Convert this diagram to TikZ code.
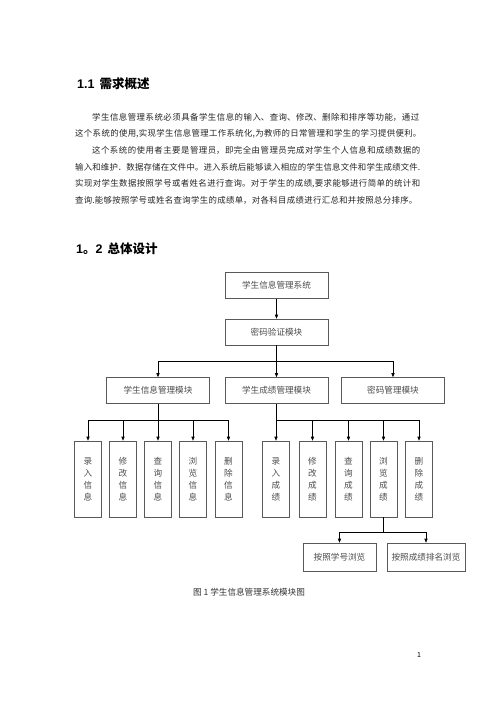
\documentclass[tikz,border=0pt]{standalone}
\usepackage{fontspec}
\setmainfont{Noto Sans CJK SC}
\newfontfamily\latinhd{Liberation Sans}
\usetikzlibrary{arrows.meta}

\XeTeXlinebreaklocale "zh"
\XeTeXlinebreakskip=0pt plus 3pt
\newcommand{\jline}[2]{\parbox{#1}{\tolerance=10000\parindent=0pt\parfillskip=0pt #2}}
\newcommand{\bodyfont}{\fontsize{8.4}{10}\selectfont}
\newcommand{\boxfont}{\fontsize{8.6}{12}\selectfont}

\begin{document}
\begin{tikzpicture}[
  x=1pt, y=-1pt,
  txt/.style={anchor=west, inner sep=0pt, font=\bodyfont, text=black!85},
  hd/.style={anchor=west, inner sep=0pt, font=\fontsize{12.5}{14}\selectfont\bfseries},
  box/.style={draw=black!65, line width=0.6pt, minimum width=103pt, minimum height=26pt,
    inner sep=0pt, font=\boxfont, text=black!70},
  leaf/.style={draw=black!65, line width=0.6pt, minimum width=27pt, minimum height=76pt,
    inner sep=0pt, align=center, font=\boxfont, text=black!70},
  arr/.style={-{Triangle[length=4pt,width=3.2pt]}, line width=0.6pt}
]
\path[fill=white] (0,0) rectangle (496,702);
\useasboundingbox (0,0) rectangle (496,702);

% --- section 1.1 ---
\node[hd] (h1) at (77,84) {{\latinhd\bfseries 1.1}\hspace{5pt}需求概述};
\node[txt] (p1) at (92,117) {\jline{327pt}{学生信息管理系统必须具备学生信息的输入、查询、修改、删除和排序等功能，通过}};
\node[txt] (p2) at (75,133.7) {\jline{346pt}{这个系统的使用,实现学生信息管理工作系统化,为教师的日常管理和学生的学习提供便利。}};
\node[txt] (p3) at (92,150.4) {\jline{328pt}{这个系统的使用者主要是管理员，即完全由管理员完成对学生个人信息和成绩数据的}};
\node[txt] (p4) at (75,167.1) {\jline{345pt}{输入和维护．数据存储在文件中。进入系统后能够读入相应的学生信息文件和学生成绩文件.}};
\node[txt] (p5) at (75,183.8) {\jline{345pt}{实现对学生数据按照学号或者姓名进行查询。对于学生的成绩,要求能够进行简单的统计和}};
\node[txt] (p6) at (75,200.5) {\jline{342pt}{查询.能够按照学号或姓名查询学生的成绩单，对各科目成绩进行汇总和并按照总分排序。}};

% --- section 1.2 ---
\node[hd] (h2) at (76,249) {{\latinhd\bfseries 1}。{\latinhd\bfseries 2}\hspace{5pt}总体设计};

% top levels
\node[box] (sys) at (276.5,285.5) {学生信息管理系统};
\node[box] (auth) at (276.5,332) {密码验证模块};
\node[box] (info) at (158,390.5) {学生信息管理模块};
\node[box] (score) at (276.5,390.5) {学生成绩管理模块};
\node[box] (pwd) at (393,390.5) {密码管理模块};

% leaves
\foreach \n/\x/\t in {i1/88/{录\\入\\信\\息}, i2/123/{修\\改\\信\\息}, i3/158/{查\\询\\信\\息},
    i4/193/{浏\\览\\信\\息}, i5/228.5/{删\\除\\信\\息},
    s1/276/{录\\入\\成\\绩}, s2/312.5/{修\\改\\成\\绩}, s3/348.5/{查\\询\\成\\绩},
    s4/383.5/{浏\\览\\成\\绩}, s5/419/{删\\除\\成\\绩}}
  \node[leaf] (\n) at (\x,479) {\t};

\node[box, minimum width=73pt, minimum height=28pt] (byid) at (339.5,557) {按照学号浏览};
\node[box, minimum width=78pt, minimum height=28pt] (byrank) at (426,557) {按照成绩排名浏览};

% connectors
\draw[arr] (sys) -- (auth);
\coordinate (j1) at (276.5,361);
\draw[line width=0.6pt] (auth.south) -- (j1);
\foreach \n in {info, score, pwd}
  \draw[arr] (j1) -| (\n.north);

\coordinate (j2) at (158,420);
\draw[line width=0.6pt] (info.south) -- (j2);
\foreach \n in {i1, i2, i3, i4, i5}
  \draw[arr] (j2) -| (\n.north);

\coordinate (j3) at (276.5,420);
\draw[line width=0.6pt] (score.south) -- (j3);
\foreach \n in {s1, s2, s3, s4, s5}
  \draw[arr] (j3) -| (\n.north);

\coordinate (j4) at (383.5,532);
\draw[line width=0.6pt] (s4.south) -- (j4);
\foreach \n in {byid, byrank}
  \draw[arr] (j4) -| (\n.north);

% caption and page number
\node[font=\boxfont, text=black!80] (cap) at (249,592) {图 1 学生信息管理系统模块图};
\node[font=\fontsize{7}{8}\selectfont] (pg) at (419,655) {1};
\end{tikzpicture}
\end{document}
